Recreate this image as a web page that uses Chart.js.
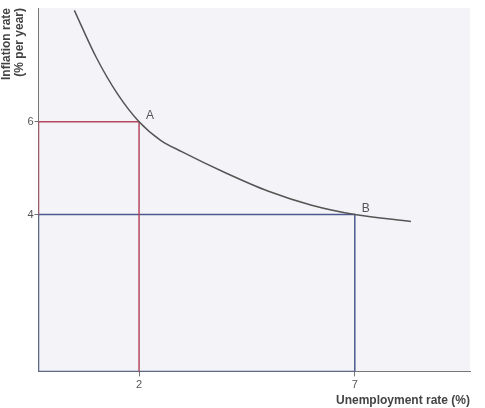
<!DOCTYPE html>
<html>
<head>
<meta charset="utf-8">
<script src="https://cdn.jsdelivr.net/npm/chart.js@4"></script>
<style>
  body { margin: 0; background: #fff; }
  #wrap { width: 485px; height: 408px; }
</style>
</head>
<body>
<div id="wrap"><canvas id="mycanvas"></canvas></div>
<script>
// Phillips curve
var curveX = [0.5, 1, 1.5, 2, 2.5, 3, 4, 5, 6, 7, 8.3];
var curveY = [8.4, 7.4, 6.6, 6, 5.6, 5.35, 4.9, 4.5, 4.2, 4, 3.85];
var xTicks = [2, 7];
var yTicks = [4, 6];
var pointA = { x: 2, y: 6, label: 'A' };
var pointB = { x: 7, y: 4, label: 'B' };

var xMin = -0.33, xMax = 9.67, yMin = 0.62, yMax = 8.45;

var curve = curveX.map(function(x, i) { return { x: x, y: curveY[i] }; });

function line(pts, color) {
	return { data: pts, showLine: true, borderColor: color, borderWidth: 1.5, pointRadius: 0, fill: false, tension: 0 };
}
var red = '#b5475e', blue = '#4a5a8e';

var bgPlugin = {
	id: 'bg',
	beforeDraw: function(chart) {
		var a = chart.chartArea, c = chart.ctx;
		c.save();
		c.fillStyle = '#f4f4f8';
		c.fillRect(a.left, a.top, a.right - a.left, a.bottom - a.top);
		c.restore();
	},
	afterDatasetsDraw: function(chart) {
		var c = chart.ctx, xs = chart.scales.x, ys = chart.scales.y;
		c.save();
		c.font = '12px "Liberation Sans", Arial';
		c.fillStyle = '#555';
		[pointA, pointB].forEach(function(p) {
			c.fillText(p.label, xs.getPixelForValue(p.x) + 7, ys.getPixelForValue(p.y) - 3);
		});
		c.restore();
	}
};

var curveSet = line(curve, '#555');
curveSet.cubicInterpolationMode = 'monotone';

new Chart(document.getElementById('mycanvas'), {
	type: 'scatter',
	data: {
		datasets: [
			curveSet,
			line([{x: xMin, y: 6}, {x: 2, y: 6}, {x: 2, y: yMin}], red),
			line([{x: xMin, y: 6}, {x: xMin, y: 4}], red),
			line([{x: xMin, y: 4}, {x: 7, y: 4}, {x: 7, y: yMin}], blue),
			line([{x: xMin, y: 4}, {x: xMin, y: yMin}, {x: 7, y: yMin}], blue)
		]
	},
	options: {
		responsive: true,
		maintainAspectRatio: false,
		animation: false,
		layout: { padding: { top: 8, right: 15, left: 0, bottom: 0 } },
		plugins: { legend: { display: false }, tooltip: { enabled: false } },
		scales: {
			x: {
				type: 'linear', min: xMin, max: xMax,
				afterBuildTicks: function(s) { s.ticks = xTicks.map(function(v) { return { value: v }; }); },
				grid: { drawOnChartArea: false, tickLength: 5, color: '#777' },
				border: { color: '#777' },
				ticks: { color: '#555', font: { size: 11, family: 'Liberation Sans' }, padding: 2 },
				title: { display: true, text: 'Unemployment rate (%)', align: 'end', color: '#444',
					font: { size: 12, weight: 'bold', family: 'Liberation Sans' }, padding: { top: 0, bottom: 0 } }
			},
			y: {
				type: 'linear', min: yMin, max: yMax,
				afterBuildTicks: function(s) { s.ticks = yTicks.map(function(v) { return { value: v }; }); },
				grid: { drawOnChartArea: false, tickLength: 4, color: '#777' },
				border: { color: '#777' },
				ticks: { color: '#555', font: { size: 11, family: 'Liberation Sans' }, padding: 1 },
				title: { display: true, text: ['Inflation rate', '(% per year)'], align: 'end', color: '#444',
					font: { size: 12, weight: 'bold', family: 'Liberation Sans', lineHeight: 1.1 }, padding: 0 }
			}
		}
	},
	plugins: [bgPlugin]
});
</script>
</body>
</html>
